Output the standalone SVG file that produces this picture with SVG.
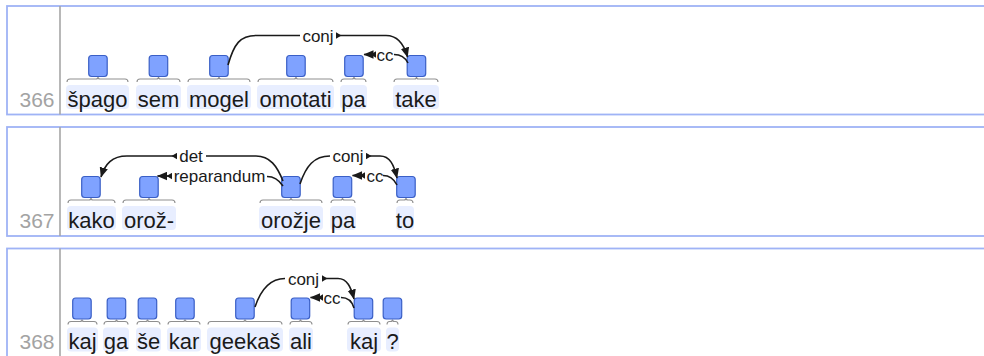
<svg xmlns="http://www.w3.org/2000/svg" width="984" height="356" viewBox="0 0 984 356">
<defs>
<style>
.blk{fill:#fff;stroke:#9fb3f6;stroke-width:1.8}
.sep{stroke:#a6a6a6;stroke-width:1.6}
.num{font-family:"Liberation Sans",Arial,sans-serif;font-size:21px;fill:#a3a3a3;text-anchor:end}
.bg{fill:#e8eeff}
.br{fill:none;stroke:#8f8f8f;stroke-width:1.1}
.box{fill:#7fa2ff;stroke:#3a5fc6;stroke-width:1.2}
.w{font-family:"Liberation Sans",Arial,sans-serif;font-size:22px;fill:#1a1a1a;text-anchor:middle}
.lb{font-family:"Liberation Sans",Arial,sans-serif;font-size:17px;fill:#1a1a1a;text-anchor:middle}
.arc{fill:none;stroke:#1a1a1a;stroke-width:1.6}
.dep{fill:none;stroke:#1a1a1a;stroke-width:1.6;marker-start:url(#st);marker-end:url(#ah)}
</style>
<marker id="ah" markerUnits="userSpaceOnUse" markerWidth="11" markerHeight="9" refX="9.5" refY="4.5" orient="auto" viewBox="0 0 11 9"><path d="M0,0.3 L10,4.5 L0,8.7 z" fill="#1a1a1a"/></marker>
<marker id="st" markerUnits="userSpaceOnUse" markerWidth="6" markerHeight="7" refX="0" refY="3.5" orient="auto" viewBox="0 0 6 7"><path d="M0,0.3 L5.5,3.5 L0,6.7 z" fill="#1a1a1a"/></marker>
</defs>

<g id="frames">
<rect class="blk" x="7" y="6" width="1000" height="108.5"/>
<rect class="blk" x="7" y="127" width="1000" height="109"/>
<rect class="blk" x="7" y="248.5" width="1000" height="120"/>
<line class="sep" x1="60" y1="6" x2="60" y2="114.5"/>
<line class="sep" x1="60" y1="127" x2="60" y2="236"/>
<line class="sep" x1="60" y1="248.5" x2="60" y2="356"/>
<text class="num" x="54.5" y="106.5">366</text>
<text class="num" x="54.5" y="227.5">367</text>
<text class="num" x="54.5" y="349">368</text>
</g>

<!-- sentence 366 -->
<g id="s366">
<g id="t366-1"><rect class="bg" x="66" y="85" width="63" height="24" rx="4"/><path class="br" d="M67,82 Q67,79 70,79 L96,79 Q98,79 98,77 Q98,79 100,79 L125,79 Q128,79 128,82"/><rect class="box" x="88.7" y="55.5" width="18.5" height="21" rx="3"/><text class="w" x="97.5" y="106.5">špago</text></g>
<g id="t366-2"><rect class="bg" x="136" y="85" width="45" height="24" rx="4"/><path class="br" d="M137,82 Q137,79 140,79 L156.5,79 Q158.5,79 158.5,77 Q158.5,79 160.5,79 L177,79 Q180,79 180,82"/><rect class="box" x="149.2" y="55.5" width="18.5" height="21" rx="3"/><text class="w" x="158.5" y="106.5">sem</text></g>
<g id="t366-3"><rect class="bg" x="187" y="85" width="64" height="24" rx="4"/><path class="br" d="M188,82 Q188,79 191,79 L217,79 Q219,79 219,77 Q219,79 221,79 L247,79 Q250,79 250,82"/><rect class="box" x="209.7" y="55.5" width="18.5" height="21" rx="3"/><text class="w" x="219" y="106.5">mogel</text></g>
<g id="t366-4"><rect class="bg" x="257" y="85" width="77" height="24" rx="4"/><path class="br" d="M258,82 Q258,79 261,79 L294,79 Q296,79 296,77 Q296,79 298,79 L330,79 Q333,79 333,82"/><rect class="box" x="286.7" y="55.5" width="18.5" height="21" rx="3"/><text class="w" x="295.5" y="106.5">omotati</text></g>
<g id="t366-5"><rect class="bg" x="340" y="85" width="27" height="24" rx="4"/><path class="br" d="M341,82 Q341,79 344,79 L352,79 Q354,79 354,77 Q354,79 356,79 L363,79 Q366,79 366,82"/><rect class="box" x="344.7" y="55.5" width="18.5" height="21" rx="3"/><text class="w" x="353.5" y="106.5">pa</text></g>
<g id="t366-6"><rect class="bg" x="393" y="85" width="46" height="24" rx="4"/><path class="br" d="M394,82 Q394,79 397,79 L414.5,79 Q416.5,79 416.5,77 Q416.5,79 418.5,79 L435,79 Q438,79 438,82"/><rect class="box" x="407.2" y="55.5" width="18.5" height="21" rx="3"/><text class="w" x="416" y="106.5">take</text></g>
</g>

<!-- sentence 367 -->
<g id="s367">
<g id="t367-1"><rect class="bg" x="67" y="206" width="49" height="24" rx="4"/><path class="br" d="M68,203 Q68,200 71,200 L89,200 Q91,200 91,198 Q91,200 93,200 L112,200 Q115,200 115,203"/><rect class="box" x="81.7" y="176.5" width="18.5" height="21" rx="3"/><text class="w" x="91.5" y="227.5">kako</text></g>
<g id="t367-2"><rect class="bg" x="122" y="206" width="54" height="24" rx="4"/><path class="br" d="M123,203 Q123,200 126,200 L147,200 Q149,200 149,198 Q149,200 151,200 L172,200 Q175,200 175,203"/><rect class="box" x="139.7" y="176.5" width="18.5" height="21" rx="3"/><text class="w" x="149" y="227.5">orož-</text></g>
<g id="t367-3"><rect class="bg" x="259" y="206" width="64" height="24" rx="4"/><path class="br" d="M260,203 Q260,200 263,200 L289,200 Q291,200 291,198 Q291,200 293,200 L319,200 Q322,200 322,203"/><rect class="box" x="281.7" y="176.5" width="18.5" height="21" rx="3"/><text class="w" x="291" y="227.5">orožje</text></g>
<g id="t367-4"><rect class="bg" x="330" y="206" width="26" height="24" rx="4"/><path class="br" d="M331,203 Q331,200 334,200 L340.5,200 Q342.5,200 342.5,198 Q342.5,200 344.5,200 L352,200 Q355,200 355,203"/><rect class="box" x="333.2" y="176.5" width="18.5" height="21" rx="3"/><text class="w" x="343" y="227.5">pa</text></g>
<g id="t367-5"><rect class="bg" x="396" y="206" width="18" height="24" rx="4"/><path class="br" d="M397,203 Q397,200 400,200 L404,200 Q406,200 406,198 Q406,200 408,200 L410,200 Q413,200 413,203"/><rect class="box" x="396.7" y="176.5" width="18.5" height="21" rx="3"/><text class="w" x="405" y="227.5">to</text></g>
</g>

<!-- sentence 368 -->
<g id="s368">
<g id="t368-1"><rect class="bg" x="67" y="327.5" width="31" height="24" rx="4"/><path class="br" d="M68,324.5 Q68,321.5 71,321.5 L80,321.5 Q82,321.5 82,319.5 Q82,321.5 84,321.5 L94,321.5 Q97,321.5 97,324.5"/><rect class="box" x="72.7" y="298" width="18.5" height="21" rx="3"/><text class="w" x="82.5" y="349">kaj</text></g>
<g id="t368-2"><rect class="bg" x="103" y="327.5" width="26" height="24" rx="4"/><path class="br" d="M104,324.5 Q104,321.5 107,321.5 L114.5,321.5 Q116.5,321.5 116.5,319.5 Q116.5,321.5 118.5,321.5 L125,321.5 Q128,321.5 128,324.5"/><rect class="box" x="107.2" y="298" width="18.5" height="21" rx="3"/><text class="w" x="116" y="349">ga</text></g>
<g id="t368-3"><rect class="bg" x="136" y="327.5" width="25" height="24" rx="4"/><path class="br" d="M137,324.5 Q137,321.5 140,321.5 L145.5,321.5 Q147.5,321.5 147.5,319.5 Q147.5,321.5 149.5,321.5 L157,321.5 Q160,321.5 160,324.5"/><rect class="box" x="138.2" y="298" width="18.5" height="21" rx="3"/><text class="w" x="148.5" y="349">še</text></g>
<g id="t368-4"><rect class="bg" x="167" y="327.5" width="34" height="24" rx="4"/><path class="br" d="M168,324.5 Q168,321.5 171,321.5 L183,321.5 Q185,321.5 185,319.5 Q185,321.5 187,321.5 L197,321.5 Q200,321.5 200,324.5"/><rect class="box" x="175.7" y="298" width="18.5" height="21" rx="3"/><text class="w" x="184" y="349">kar</text></g>
<g id="t368-5"><rect class="bg" x="207" y="327.5" width="76" height="24" rx="4"/><path class="br" d="M208,324.5 Q208,321.5 211,321.5 L243,321.5 Q245,321.5 245,319.5 Q245,321.5 247,321.5 L279,321.5 Q282,321.5 282,324.5"/><rect class="box" x="235.7" y="298" width="18.5" height="21" rx="3"/><text class="w" x="245" y="349">geekaš</text></g>
<g id="t368-6"><rect class="bg" x="289" y="327.5" width="24" height="24" rx="4"/><path class="br" d="M290,324.5 Q290,321.5 293,321.5 L298.5,321.5 Q300.5,321.5 300.5,319.5 Q300.5,321.5 302.5,321.5 L309,321.5 Q312,321.5 312,324.5"/><rect class="box" x="291.2" y="298" width="18.5" height="21" rx="3"/><text class="w" x="301" y="349">ali</text></g>
<g id="t368-7"><rect class="bg" x="347" y="327.5" width="34" height="24" rx="4"/><path class="br" d="M348,324.5 Q348,321.5 351,321.5 L361.5,321.5 Q363.5,321.5 363.5,319.5 Q363.5,321.5 365.5,321.5 L377,321.5 Q380,321.5 380,324.5"/><rect class="box" x="354.2" y="298" width="18.5" height="21" rx="3"/><text class="w" x="364" y="349">kaj</text></g>
<g id="t368-8"><rect class="bg" x="386" y="327.5" width="13" height="24" rx="4"/><path class="br" d="M387,324.5 Q387,321.5 389.5,321.5 L390.5,321.5 Q392.5,321.5 392.5,319.5 Q392.5,321.5 394.5,321.5 L395.5,321.5 Q398,321.5 398,324.5"/><rect class="box" x="383.2" y="298" width="18.5" height="21" rx="3"/><text class="w" x="392.5" y="349">?</text></g>
</g>

<g id="connectors">
<!-- 366 conj mogel -> take -->
<path class="arc" d="M228,65 C234,44 240,35.5 256,35.5 L300,35.5"/>
<path class="dep" d="M336,35.5 L386,35.5 C398,35.5 404,44 407.5,57"/>
<text class="lb" x="318" y="41.5">conj</text>
<!-- 366 cc take -> pa -->
<path class="arc" d="M394,54.5 C401,54.5 405,57 408,63"/>
<path class="dep" d="M376,54.5 L364,54.5"/>
<text class="lb" x="385" y="60.5">cc</text>

<!-- 367 det orožje -> kako -->
<path class="arc" d="M206,156 L256,156 C270,156 277,166 283,181"/>
<path class="dep" d="M177,156 L127,156 C112,156 105,164 101,177"/>
<text class="lb" x="191" y="162">det</text>
<!-- 367 reparandum orožje -> orož- -->
<path class="arc" d="M267,176.5 C274,176.5 279,180 283,186"/>
<path class="dep" d="M172,176 L157.5,176"/>
<text class="lb" x="219.5" y="182">reparandum</text>
<!-- 367 conj orožje -> to -->
<path class="arc" d="M300,184 C306,166 314,156 330,156"/>
<path class="dep" d="M366,156 L380,156 C390,156 394,165 397,178"/>
<text class="lb" x="348" y="162">conj</text>
<!-- 367 cc to -> pa -->
<path class="arc" d="M383,175.5 C390,175.5 394,179 397,185"/>
<path class="dep" d="M365,175.5 L352.5,175.5"/>
<text class="lb" x="375" y="181.5">cc</text>

<!-- 368 conj geekaš -> kaj -->
<path class="arc" d="M255,307 C261,289 270,278.5 285,278.5"/>
<path class="dep" d="M322,278.5 L338,278.5 C347,278.5 351,287 354,299"/>
<text class="lb" x="303.5" y="284.5">conj</text>
<!-- 368 cc kaj -> ali -->
<path class="arc" d="M341,297.5 C348,297.5 352,301 354,308"/>
<path class="dep" d="M323,297.5 L310.5,297.5"/>
<text class="lb" x="332" y="303.5">cc</text>
</g>
</svg>
